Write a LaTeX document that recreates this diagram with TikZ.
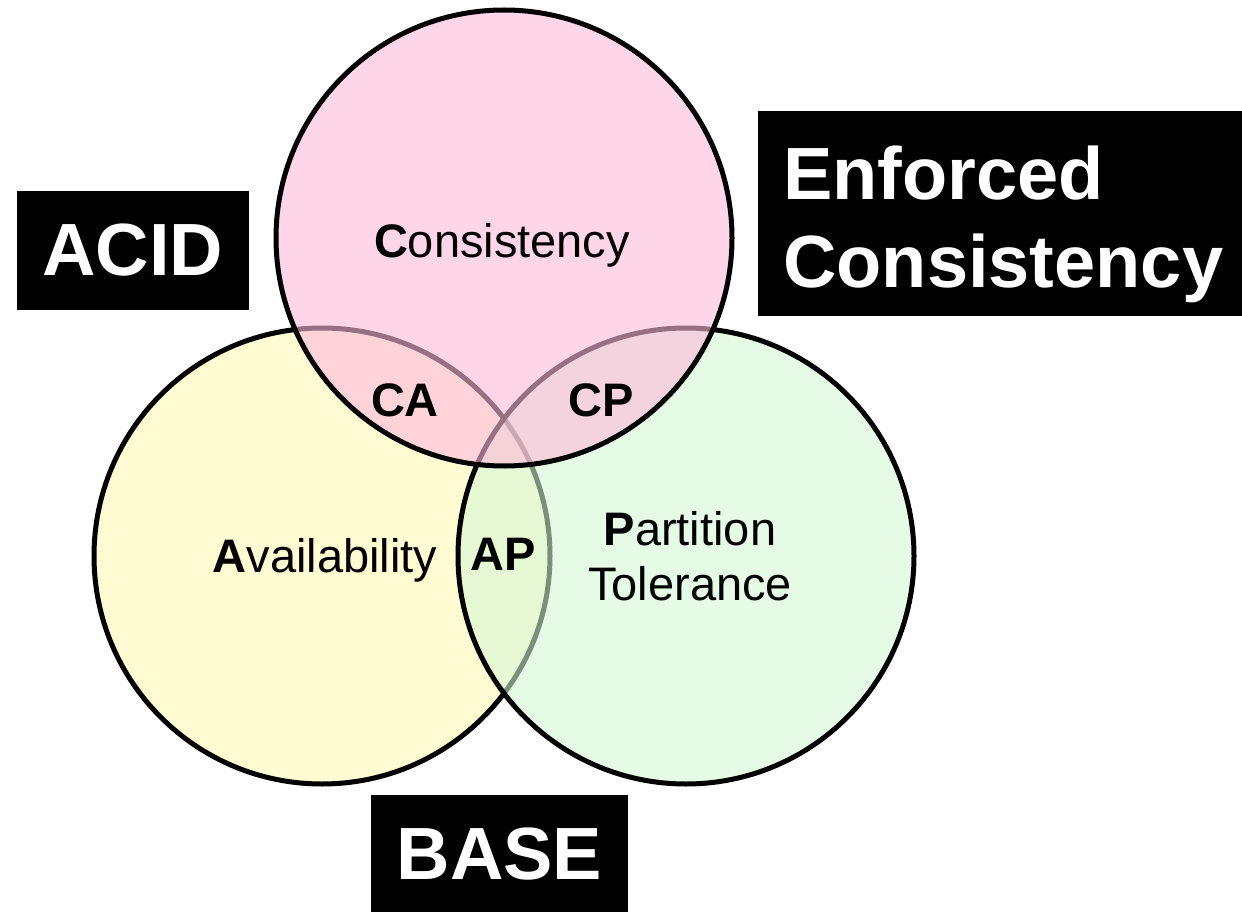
\documentclass[tikz,border=0pt]{standalone}
\usepackage{fontspec}
\setmainfont{Liberation Sans}
\definecolor{yelfill}{RGB}{255,252,212}
\definecolor{grnfill}{RGB}{212,248,212}
\definecolor{pinkfill}{RGB}{255,185,217}
\begin{document}
\begin{tikzpicture}[x=1pt,y=-1pt,
  setc/.style={circle, draw=black, line width=5pt, minimum size=456pt, inner sep=0pt},
  lbl/.style={font=\fontsize{47}{55}\selectfont, anchor=base, inner sep=0pt},
  blbl/.style={font=\bfseries\fontsize{47}{55}\selectfont, anchor=base, inner sep=0pt},
  blk/.style={fill=black, text=white, font=\bfseries\fontsize{74}{88}\selectfont, inner sep=0pt}]
\useasboundingbox (0,0) rectangle (1242,912);
% sets
\node[setc, fill=yelfill] (A) at (322,556) {};
\node[setc, fill=grnfill, fill opacity=0.58] (P) at (686,556) {};
\node[setc, fill=pinkfill, fill opacity=0.6] (C) at (504,238) {};
% labels
\node[lbl] (tC) at (502,258) {\textbf{C}onsistency};
\node[lbl] (tA) at (325,572) {\textbf{A}vailability};
\node[lbl] (tP1) at (690,545) {\textbf{P}artition};
\node[lbl] (tP2) at (690,600) {Tolerance};
\node[blbl] (CA) at (405,416) {CA};
\node[blbl] (CP) at (601,416) {CP};
\node[blbl] (AP) at (503,570) {AP};
% black boxes
\node[blk, minimum width=232pt, minimum height=119pt] (acid) at (133,250.5) {ACID};
\node[blk, anchor=north west, text width=434pt, inner xsep=25pt, align=left] (enf) at (758,111)
  {\rule{0pt}{88pt}Enforced\\Consistency\rule[-29pt]{0pt}{29pt}};
\node[blk, anchor=north, minimum width=257pt, minimum height=117pt] (base) at (499.5,795) {BASE};
\end{tikzpicture}
\end{document}
